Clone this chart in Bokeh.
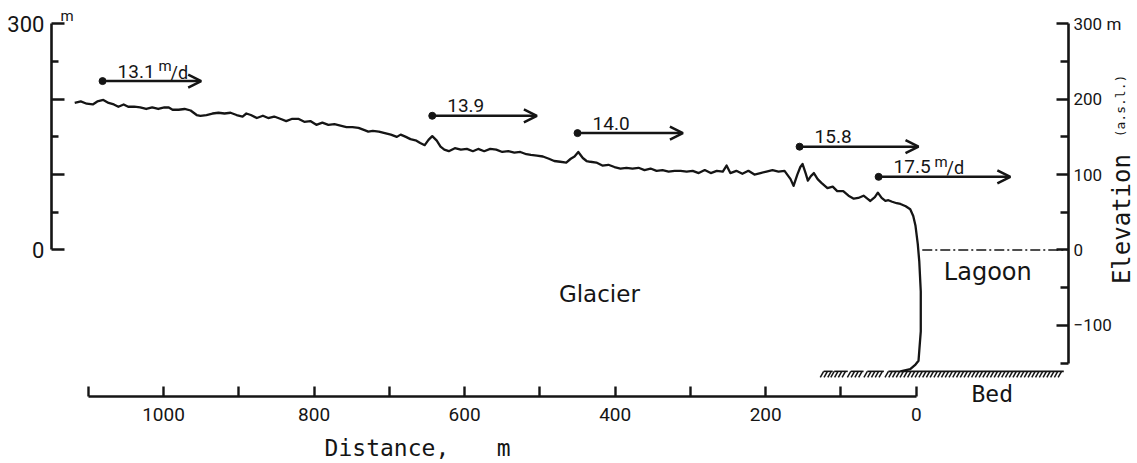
import numpy as np
from bokeh.plotting import figure
from bokeh.models import (Range1d, LinearAxis, FixedTicker, Label, Arrow, OpenHead,
                          ColumnDataSource)
from bokeh.embed import file_html
from bokeh.resources import INLINE
from bokeh.core.properties import value

# ---------------- data ----------------
# glacier surface / front profile: distance from the calving front (m), elevation (m a.s.l.)
profile_dist = [1118, 1110, 1102, 1094, 1088, 1080, 1073, 1066, 1060, 1053,
                1047, 1039, 1031, 1023, 1015, 1007, 999, 993, 988, 980,
                972, 964, 956, 951, 943, 935, 927, 919, 911, 903,
                895, 890, 884, 876, 868, 861, 853, 845, 837, 829,
                821, 813, 805, 797, 789, 781, 773, 765, 757, 749,
                741, 733, 728, 722, 714, 706, 698, 690, 685, 678,
                672, 664, 659, 653, 648, 643, 637, 632, 627, 621,
                613, 605, 597, 589, 582, 574, 566, 558, 550, 542,
                534, 526, 518, 512, 504, 496, 488, 481, 473, 465,
                459, 454, 449, 443, 438, 433, 425, 417, 409, 401,
                393, 385, 377, 369, 361, 353, 345, 337, 329, 321,
                313, 305, 297, 289, 281, 273, 265, 257, 252, 247,
                239, 231, 223, 215, 207, 199, 191, 183, 175, 167,
                163, 158, 154, 151, 147, 144, 140, 136, 131, 126,
                118, 111, 105, 97, 90, 83, 77, 70, 65, 61,
                55, 51, 46, 41, 37, 32, 26, 21, 14, 8,
                4, 1, -2, -4, -6, -6, -4, -3, 1, 8,
                21]
profile_elev = [195, 197, 194, 193, 197, 199, 195, 193, 190, 193,
                190, 190, 189, 187, 189, 187, 189, 189, 186, 186,
                187, 185, 179, 178, 179, 181, 182, 181, 182, 179,
                177, 181, 179, 175, 178, 175, 177, 174, 171, 174,
                174, 170, 171, 166, 169, 166, 167, 165, 163, 163,
                162, 159, 157, 158, 157, 155, 153, 150, 153, 150,
                147, 145, 142, 139, 146, 151, 145, 137, 133, 131,
                135, 133, 134, 131, 134, 131, 134, 133, 130, 131,
                129, 130, 127, 126, 125, 124, 121, 118, 117, 116,
                121, 124, 130, 122, 118, 117, 116, 112, 113, 110,
                108, 109, 108, 109, 106, 108, 105, 106, 104, 105,
                105, 104, 105, 102, 106, 102, 105, 104, 112, 102,
                105, 101, 105, 100, 102, 104, 106, 104, 105, 94,
                85, 100, 110, 114, 102, 92, 98, 102, 94, 89,
                82, 84, 78, 78, 72, 68, 69, 72, 68, 65,
                70, 76, 69, 65, 66, 64, 62, 61, 58, 54,
                45, 32, 8, -15, -55, -108, -134, -147, -152, -158,
                -161]

# velocity stakes
stake_dist = [1081, 643, 450, 155, 50]
stake_elev = [224, 178, 155, 137, 97]
stake_vel = [13.1, 13.9, 14.0, 15.8, 17.5]
stake_unit = ["m/d", "", "", "", "m/d"]
vel_scale = 10  # arrow length: metres per (m/d)

lagoon_level = 0
lagoon_dist = [-8, -200]

bed_level = -161
bed_left = [123, 109, 87, 65, 37]
bed_right = [111, 91, 70, 43, -196]

dist_major = [0, 200, 400, 600, 800, 1000]
dist_minor = [100, 300, 500, 700, 900, 1100]
left_major = [0, 100, 200, 300]
left_minor = [50, 150, 250]
right_major = [-100, 0, 100, 200, 300]
right_minor = [-150, -50, 50, 150, 250]

INK = "#151515"
NUM_FONT = "Roboto"
WORD_FONT = "DejaVu Sans"
MONO_FONT = "DejaVu Sans Mono"

# ---------------- figure ----------------
W, H = 1136, 462
p = figure(width=W, height=H,
           x_range=Range1d(1216.6, -292.6), y_range=Range1d(-281.9, 330.9),
           output_backend="svg", toolbar_location=None,
           x_axis_location=None, y_axis_location=None,
           min_border=0)
p.grid.visible = False
p.outline_line_color = None
p.background_fill_color = "white"
p.border_fill_color = "white"

def style_axis(ax, font_size, standoff):
    ax.axis_line_color = INK
    ax.axis_line_width = 2.6
    ax.major_tick_line_color = INK
    ax.minor_tick_line_color = INK
    ax.major_tick_line_width = 2.4
    ax.minor_tick_line_width = 2.4
    ax.major_tick_out = 0
    ax.minor_tick_out = 0
    ax.major_label_text_font = NUM_FONT
    ax.major_label_text_font_size = font_size
    ax.major_label_text_color = INK
    ax.major_label_standoff = standoff

# bottom distance axis
xa = LinearAxis(fixed_location=-195)
style_axis(xa, "19px", 11)
xa.bounds = (0, 1100)
xa.ticker = FixedTicker(ticks=dist_major, minor_ticks=dist_minor)
xa.major_tick_in = 10
xa.minor_tick_in = 10
p.add_layout(xa, "below")

# left elevation axis
ya = LinearAxis(fixed_location=1149)
style_axis(ya, "22px", 7)
ya.bounds = (0, 300)
ya.ticker = FixedTicker(ticks=left_major, minor_ticks=left_minor)
ya.major_label_overrides = {100: "", 200: ""}
ya.major_tick_in = 13
ya.minor_tick_in = 7
p.add_layout(ya, "left")

# right elevation axis
ra = LinearAxis(fixed_location=-202.3)
style_axis(ra, "17px", 5)
ra.bounds = (-150, 300)
ra.ticker = FixedTicker(ticks=right_major, minor_ticks=right_minor)
ra.major_label_overrides = {300: "300 m"}
ra.major_tick_in = 12
ra.minor_tick_in = 8
p.add_layout(ra, "right")

# ---------------- marks ----------------
p.line(profile_dist, profile_elev, line_width=2.3, line_color=INK, line_join="round")

p.line(lagoon_dist, [lagoon_level, lagoon_level], line_width=1.5, line_color=INK,
       line_dash="10 3 2 3")

# bed: top line with slanted hatch strokes
bed_top = bed_level
bed_bottom = bed_level - 8
p.segment(x0=bed_left, x1=bed_right, y0=[bed_top] * len(bed_left),
          y1=[bed_top] * len(bed_left), line_color=INK, line_width=1.6)
hx = np.concatenate([np.arange(l, r, -5.0) for l, r in zip(bed_left, bed_right)])
p.segment(x0=hx, y0=[bed_top] * len(hx), x1=hx + 4.5, y1=[bed_bottom] * len(hx),
          line_color=INK, line_width=1.5)

src = ColumnDataSource(dict(
    x0=stake_dist,
    x1=[d - v * vel_scale for d, v in zip(stake_dist, stake_vel)],
    y=stake_elev,
    lab=[f"{v:.1f}" for v in stake_vel],
    unit_m=["m" if u else "" for u in stake_unit],
    unit_d=["/d" if u else "" for u in stake_unit],
))
p.add_layout(Arrow(end=OpenHead(size=13, line_width=2.5, line_color=INK),
                   x_start="x0", y_start="y", x_end="x1", y_end="y",
                   source=src, line_width=2.5, line_color=INK))
p.scatter("x0", "y", source=src, size=7, color=INK)
p.text("x0", "y", text="lab", source=src, x_offset=15, y_offset=-10,
       text_baseline="middle", text_font=value(NUM_FONT),
       text_font_size="19px", text_color=INK)
p.text("x0", "y", text="unit_m", source=src, x_offset=56, y_offset=-15,
       text_baseline="middle", text_font=value(NUM_FONT),
       text_font_size="15px", text_color=INK)
p.text("x0", "y", text="unit_d", source=src, x_offset=68, y_offset=-9,
       text_baseline="middle", text_font=value(NUM_FONT),
       text_font_size="18px", text_color=INK)

# ---------------- annotations ----------------
def lab(text, x, y, font, size, align="center", angle=0):
    p.add_layout(Label(x=x, y=y, text=text, text_font=font, text_font_size=size,
                       text_align=align, text_baseline="middle", angle=angle,
                       text_color=INK))

lab("Glacier", 421, -59, WORD_FONT, "23px")
lab("Lagoon", -95, -29, WORD_FONT, "24px")
lab("Bed", -101, -191, MONO_FONT, "23px")
lab("Distance,", 786, -263, MONO_FONT, "23px", align="left")
lab("m", 548, -263, MONO_FONT, "23px")
lab("m", 1128, 311, NUM_FONT, "15px")
lab("Elevation", -274, 41, MONO_FONT, "24px", angle=np.pi / 2)
lab("(a.s.l.)", -272, 191, MONO_FONT, "13px", angle=np.pi / 2)

open("out.html", "w").write(file_html(p, INLINE))
